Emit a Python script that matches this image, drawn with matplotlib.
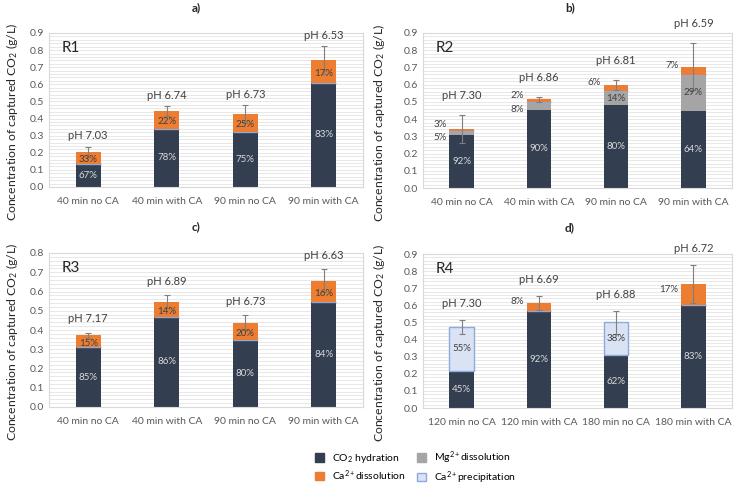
import matplotlib.pyplot as plt
import numpy as np
from matplotlib.patches import Patch

plt.rcParams['font.family'] = ['Lato', 'DejaVu Sans']
plt.rcParams['mathtext.fontset'] = 'custom'
plt.rcParams['mathtext.rm'] = 'Lato'
plt.rcParams['mathtext.it'] = 'Lato:italic'

# categories
cats_short = ['40 min no CA', '40 min with CA', '90 min no CA', '90 min with CA']
cats_long = ['120 min no CA', '120 min with CA', '180 min no CA', '180 min with CA']

# R1
r1_hyd = [0.135, 0.34, 0.32, 0.61]
r1_ca = [0.07, 0.105, 0.105, 0.13]
r1_err = [0.03, 0.028, 0.052, 0.082]
r1_ph = ['7.03', '6.74', '6.73', '6.53']
r1_pct_hyd = [67, 78, 75, 83]
r1_pct_ca = [33, 22, 25, 17]

# R2
r2_hyd = [0.31, 0.455, 0.48, 0.45]
r2_mg = [0.02, 0.045, 0.083, 0.205]
r2_ca = [0.013, 0.015, 0.037, 0.05]
r2_err = [0.083, 0.015, 0.03, 0.135]
r2_ph = ['7.30', '6.86', '6.81', '6.59']
r2_pct_hyd = [92, 90, 80, 64]
r2_pct_mg = [5, 8, 14, 29]
r2_pct_ca = [3, 2, 6, 7]

# R3
r3_hyd = [0.31, 0.468, 0.35, 0.545]
r3_ca = [0.062, 0.079, 0.088, 0.11]
r3_err = [0.015, 0.035, 0.04, 0.06]
r3_ph = ['7.17', '6.89', '6.73', '6.63']
r3_pct_hyd = [85, 86, 80, 84]
r3_pct_ca = [15, 14, 20, 16]

# R4
r4_hyd = [0.215, 0.565, 0.31, 0.60]
r4_ca = [0.0, 0.05, 0.0, 0.125]
r4_pre = [0.26, 0.0, 0.19, 0.0]
r4_err = [0.04, 0.04, 0.066, 0.11]
r4_ph = ['7.30', '6.69', '6.88', '6.72']
r4_pct_hyd = [45, 92, 62, 83]
r4_pct_ca = [None, 8, None, 17]
r4_pct_pre = [55, None, 38, None]

c_hyd = '#333F50'
c_ca = '#ED7D31'
c_mg = '#A5A5A5'
c_pre = '#DAE3F3'
c_pre_edge = '#8EA9DB'
txt = '#404040'

W, H = 734, 487
fig = plt.figure(figsize=(W / 100, H / 100), dpi=100)


def px_axes(left, right, top, bottom):
    return fig.add_axes([left / W, 1 - bottom / H, (right - left) / W, (bottom - top) / H])


def panel(ax, cats, name, ymax, hyd, ca, err, ph, p_hyd, p_ca, ph_off,
          mg=None, p_mg=None, pre=None, p_pre=None, ca_out=False):
    x = np.arange(len(cats))
    w = 0.32
    hyd = np.array(hyd)
    ca = np.array(ca)
    mg = np.zeros(len(x)) if mg is None else np.array(mg)
    pre = np.zeros(len(x)) if pre is None else np.array(pre)

    ax.set_ylim(0, ymax)
    ax.set_xlim(-0.5, len(x) - 0.5)
    ax.set_yticks(np.arange(0, ymax + 0.001, 0.1))
    ax.set_yticks(np.arange(0, ymax + 0.001, 0.02), minor=True)
    ax.yaxis.grid(True, which='both', color='#E4E4E4', lw=0.6)
    ax.set_axisbelow(True)
    ax.tick_params(axis='both', which='both', length=0, labelsize=7.5, colors='#595959')
    ax.tick_params(axis='x', pad=7)
    ax.yaxis.set_major_formatter(plt.FuncFormatter(lambda v, p: f'{v:.1f}'))
    for s in ax.spines.values():
        s.set_color('#D9D9D9')
        s.set_linewidth(0.8)
    ax.set_xticks(x)
    ax.set_xticklabels(cats)

    ax.bar(x, hyd, w, color=c_hyd, zorder=2)
    ax.bar(x, mg, w, bottom=hyd, color=c_mg, zorder=2)
    ax.bar(x, pre, w, bottom=hyd + mg, color=c_pre, edgecolor=c_pre_edge, lw=1, zorder=2)
    ax.bar(x, ca, w, bottom=hyd + mg + pre, color=c_ca, zorder=2)
    tot = hyd + mg + pre + ca
    ax.errorbar(x, tot, yerr=err, fmt='none', ecolor='#7F7F7F', elinewidth=0.8,
                capsize=2.5, capthick=0.8, zorder=3)

    for i in range(len(x)):
        ax.text(x[i], hyd[i] / 2, f'{p_hyd[i]}%', ha='center', va='center',
                fontsize=7, color='#D9D9D9', zorder=4)
        if p_mg is not None and p_mg[i] is not None:
            yc = hyd[i] + mg[i] / 2
            if mg[i] > 0.06:
                ax.text(x[i], yc, f'{p_mg[i]}%', ha='center', va='center',
                        fontsize=7, color=txt, zorder=4)
            else:
                ax.annotate(f'{p_mg[i]}%', (x[i] - w / 2, yc), xytext=(-2, -3),
                            textcoords='offset points', ha='right', va='center',
                            fontsize=7, color=txt)
        if p_pre is not None and p_pre[i] is not None:
            yc = hyd[i] + mg[i] + pre[i] / 2
            ax.text(x[i], yc, f'{p_pre[i]}%', ha='center', va='center',
                    fontsize=7, color=txt, zorder=4)
        if p_ca[i] is not None:
            yc = tot[i] - ca[i] / 2
            if ca_out:
                ax.annotate(f'{p_ca[i]}%', (x[i] - w / 2, yc), xytext=(-2, 4),
                            textcoords='offset points', ha='right', va='center',
                            fontsize=7, color=txt)
            else:
                ax.text(x[i], yc - 0.01, f'{p_ca[i]}%', ha='center', va='center',
                        fontsize=7, color=txt, zorder=4)
        ax.annotate(f'pH {ph[i]}', (x[i], tot[i] + err[i]), xytext=(0, ph_off),
                    textcoords='offset points', ha='center', va='bottom',
                    fontsize=8, color=txt, annotation_clip=False)

    ax.text(0.04, 0.9, name, transform=ax.transAxes, fontsize=11, color='#262626',
            va='center', ha='left')
    ax.set_ylabel('Concentration of captured CO$_2$ (g/L)', fontsize=8.8, color='#262626')


ax_a = px_axes(49, 363, 33, 187)
panel(ax_a, cats_short, 'R1', 0.9, r1_hyd, r1_ca, r1_err, r1_ph,
      r1_pct_hyd, r1_pct_ca, 4)

ax_b = px_axes(423, 732, 33, 188)
panel(ax_b, cats_short, 'R2', 0.9, r2_hyd, r2_ca, r2_err, r2_ph,
      r2_pct_hyd, r2_pct_ca, 10, mg=r2_mg, p_mg=r2_pct_mg, ca_out=True)

ax_c = px_axes(49, 363, 253, 407)
panel(ax_c, cats_short, 'R3', 0.8, r3_hyd, r3_ca, r3_err, r3_ph,
      r3_pct_hyd, r3_pct_ca, 6)

ax_d = px_axes(423, 732, 254, 408)
panel(ax_d, cats_long, 'R4', 0.9, r4_hyd, r4_ca, r4_err, r4_ph,
      r4_pct_hyd, r4_pct_ca, 8, pre=r4_pre, p_pre=r4_pct_pre, ca_out=True)

# panel letters
for lbl, xp, yp in [('a)', 196, 8), ('b)', 570, 8), ('c)', 196, 227), ('d)', 570, 228)]:
    fig.text(xp / W, 1 - yp / H, lbl, fontsize=8.5, fontweight='bold',
             ha='center', va='center', color='#262626')

for ax in (ax_a, ax_c):
    ax.yaxis.set_label_coords(-0.092, 0.42)
for ax in (ax_b, ax_d):
    ax.yaxis.set_label_coords(-0.118, 0.42)

handles = [Patch(color=c_hyd, label='CO$_2$ hydration'),
           Patch(color=c_ca, label='Ca$^{2+}$dissolution'),
           Patch(color=c_mg, label='Mg$^{2+}$dissolution'),
           Patch(facecolor=c_pre, edgecolor=c_pre_edge, label='Ca$^{2+}$precipitation')]
fig.legend(handles=handles, ncol=2, loc='center', bbox_to_anchor=(0.566, 0.04),
           frameon=False, fontsize=7.5, handlelength=0.9, handleheight=0.9,
           columnspacing=1.0, labelspacing=0.3, handletextpad=0.8,
           borderpad=0.2)

fig.savefig('out.png', dpi=100)
